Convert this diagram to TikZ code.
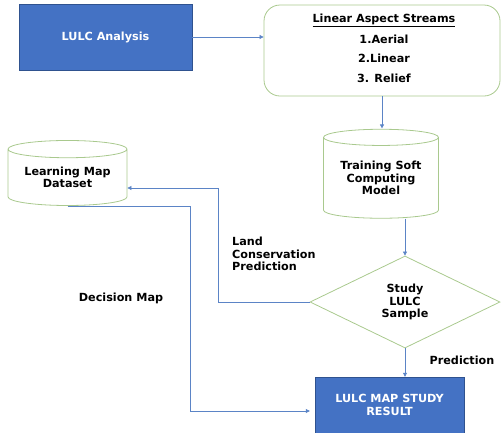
\documentclass[tikz,border=0pt]{standalone}
\usepackage{fontspec}
\setmainfont{DejaVu Sans}
\usepackage{tikz}
\usetikzlibrary{calc,shapes.geometric,arrows.meta}
\definecolor{lulcblue}{HTML}{4472C4}
\definecolor{lulcedge}{HTML}{2F528F}
\definecolor{lulcgreen}{HTML}{A9C98E}
\definecolor{lulcarrow}{HTML}{5B84C6}
\tikzset{
	bluebox/.style={draw=lulcedge, fill=lulcblue, text=white, inner sep=0pt, align=center, font=\bfseries\fontsize{11.2}{12.5}\selectfont},
	greenbox/.style={draw=lulcgreen, line width=0.8pt, inner sep=0pt, align=center, font=\bfseries\fontsize{11.2}{12.5}\selectfont},
	store/.style={greenbox, cylinder, shape border rotate=90, aspect=0.2},
	choice/.style={greenbox, diamond},
	flow/.style={draw=lulcarrow, line width=0.7pt, -{Triangle[length=4pt,width=4pt]}},
	tag/.style={inner sep=0pt, align=left, font=\bfseries\fontsize{11.2}{12.5}\selectfont}
}
\begin{document}
\begin{tikzpicture}[x=1pt, y=-1pt]
		%%%%% START %%%%%
		\useasboundingbox (0, 0) rectangle (501, 432);
		
		\node[bluebox, minimum width=173pt, minimum height=66pt] (analysis) at (105.5, 37) {LULC Analysis};
		
		\node[greenbox, rounded corners=16pt, minimum width=236pt, minimum height=91pt] (streams) at (382, 50.5) {};
		\node[tag] (streamstitle) at (384, 20) {\underline{Linear Aspect Streams}};
		\node[tag] (aerial) at (384, 39.5) {1.Aerial};
		\node[tag] (linear) at (384, 58) {2.Linear};
		\node[tag] (relief) at (384, 78) {3. Relief};
		
		\node[store, minimum width=115pt, minimum height=89pt] (training) at (381, 178) {Training Soft\\Computing\\Model};
		\node[store, minimum width=119pt, minimum height=65pt] (dataset) at (67.5, 177.5) {Learning Map\\Dataset};
		
		\node[choice, minimum width=190pt, minimum height=92pt, aspect=2.07] (sample) at (405, 302) {Study\\LULC\\Sample};
		
		\node[bluebox, minimum width=149pt, minimum height=56pt] (result) at (389.5, 405) {LULC MAP STUDY\\RESULT};
		
		\coordinate (lcpturn) at (218, 188);
		\coordinate (dmturn) at (190, 411);
		
		\draw[flow] (analysis.east) -- (analysis.east -| streams.west);
		\draw[flow] (streams.south) -- ++(0, 32);
		\draw[flow] (training.south -| sample.north) -- (sample.north);
		\draw[flow] (sample.west) -| (lcpturn) -- (lcpturn -| dataset.east);
		\draw[flow] (dataset.south) -| (dmturn) -- ($(dmturn -| result.west)+(-5, 0)$);
		\draw[flow] (sample.south) -- (sample.south |- result.north);
		
		\node[tag, anchor=west] (lcp) at (232, 254) {Land\\Conservation\\Prediction};
		\node[tag] (decision) at (121, 298) {Decision Map};
		\node[tag] (prediction) at (462, 360) {Prediction};
		
		%%%%% END %%%%%
	\end{tikzpicture}
\end{document}
